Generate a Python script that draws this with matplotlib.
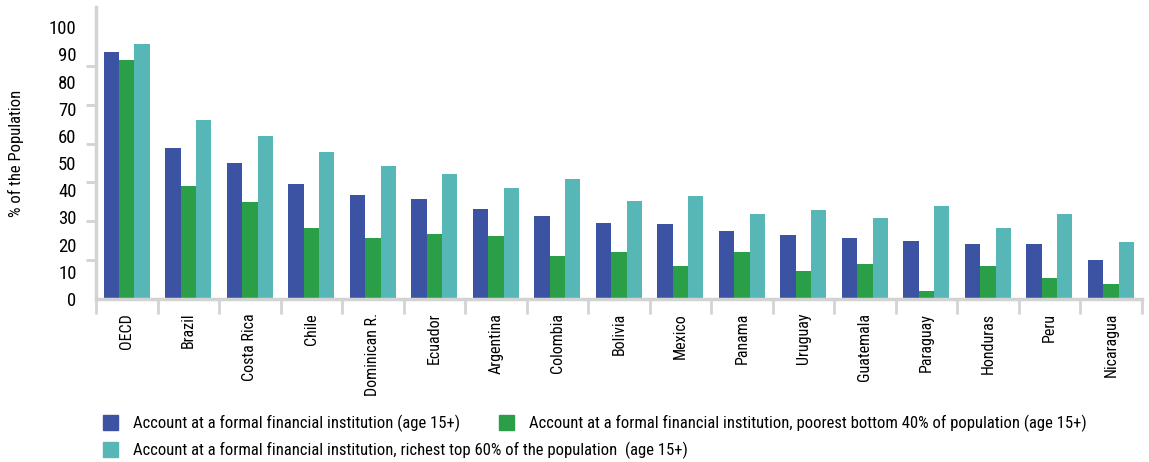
import numpy as np
import matplotlib
matplotlib.use('Agg')
import matplotlib.pyplot as plt
from matplotlib.patches import Patch
from matplotlib import font_manager

# pick a narrow font if one is installed
available = {f.name for f in font_manager.fontManager.ttflist}
narrow = [n for n in ['Liberation Sans Narrow', 'DejaVu Sans Condensed', 'Roboto Condensed',
                      'Open Sans Condensed', 'Noto Sans Condensed', 'Arial Narrow'] if n in available]
plt.rcParams['font.family'] = narrow + ['Roboto', 'DejaVu Sans']

# Data
countries = ['OECD', 'Brazil', 'Costa Rica', 'Chile', 'Dominican R.', 'Ecuador', 'Argentina',
             'Colombia', 'Bolivia', 'Mexico', 'Panama', 'Uruguay', 'Guatemala', 'Paraguay',
             'Honduras', 'Peru', 'Nicaragua']
account_all = [90.8, 55.5, 50.0, 42.3, 38.2, 36.8, 33.1, 30.5, 27.9, 27.6, 25.0, 23.5, 22.4,
               21.3, 20.2, 20.2, 14.3]
account_poor40 = [87.9, 41.5, 35.7, 26.1, 22.4, 23.9, 23.2, 15.8, 17.3, 12.1, 17.3, 10.3, 12.9,
                  2.9, 12.1, 7.7, 5.5]
account_rich60 = [93.8, 65.8, 59.9, 54.0, 48.9, 46.0, 40.8, 44.1, 36.0, 37.9, 31.3, 32.7, 29.8,
                  34.2, 26.1, 31.3, 21.0]
ytick_labels = [0, 10, 20, 30, 40, 50, 60, 70, 80, 90, 100]

series_names = ['Account at a formal financial institution (age 15+)',
                'Account at a formal financial institution, poorest bottom 40% of population (age 15+)',
                'Account at a formal financial institution, richest top 60% of the population  (age 15+)']
colors = ['#3b53a2', '#2b9e48', '#57b7b6']

axis_grey = '#d3d3d3'
fs = 11.5

fig = plt.figure(figsize=(11.49, 4.62), dpi=100)
ax = fig.add_axes([0.0836, 0.3528, 0.910, 0.632])

x = np.arange(len(countries))
w = 0.25
ax.bar(x - w, account_all, w, color=colors[0])
ax.bar(x, account_poor40, w, color=colors[1])
ax.bar(x + w, account_rich60, w, color=colors[2])

ax.set_xlim(-0.5, len(countries) - 0.5)
ax.set_ylim(0, 107.4)

# spines
for s in ['top', 'right']:
    ax.spines[s].set_visible(False)
for s in ['left', 'bottom']:
    ax.spines[s].set_color(axis_grey)
    ax.spines[s].set_linewidth(2.5)

# y axis: labels at their values, tick marks every 100/7
ax.set_yticks(ytick_labels)
ax.set_yticklabels([str(v) for v in ytick_labels], fontsize=13.5)
ax.tick_params(axis='y', which='major', length=0, pad=14)
ax.set_yticks(np.linspace(0, 100, 8), minor=True)
ax.tick_params(axis='y', which='minor', length=7, width=2, color=axis_grey)

# x axis: separators between categories, labels at centres
ax.set_xticks(x)
ax.set_xticklabels(countries, rotation=90, fontsize=fs)
ax.tick_params(axis='x', which='major', length=0, pad=10)
ax.set_xticks(np.arange(len(countries) + 1) - 0.5, minor=True)
ax.tick_params(axis='x', which='minor', length=11, width=2, color=axis_grey)

ax.set_ylabel('% of the Population', fontsize=12, labelpad=18)

leg_kw = dict(loc='upper left', frameon=False, fontsize=12, handlelength=0.9, handleheight=1.0,
              handletextpad=0.9, labelspacing=0.6, borderpad=0)
fig.legend(handles=[Patch(color=colors[0], label=series_names[0]),
                    Patch(color=colors[2], label=series_names[2])],
           bbox_to_anchor=(0.082, 0.12), **leg_kw)
fig.legend(handles=[Patch(color=colors[1], label=series_names[1])],
           bbox_to_anchor=(0.427, 0.12), **leg_kw)

fig.savefig('out.png', dpi=100)
